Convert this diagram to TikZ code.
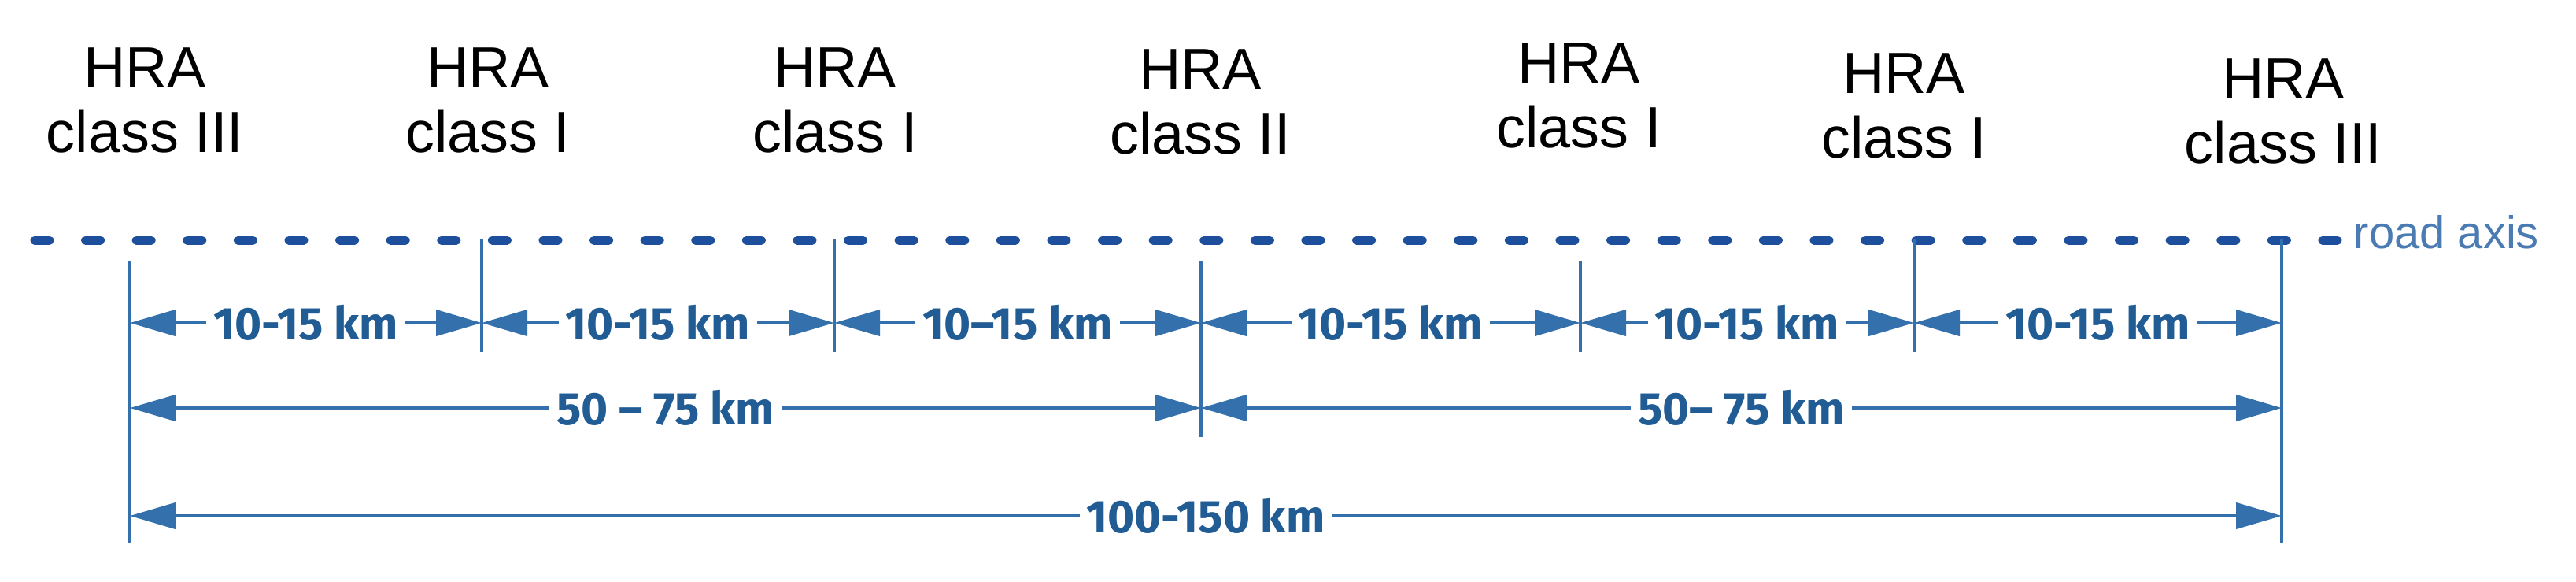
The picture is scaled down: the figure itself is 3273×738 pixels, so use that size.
\documentclass[tikz,border=0pt]{standalone}
\usepackage{fontspec}
\setmainfont{Liberation Sans}
\newfontfamily\dimfont{Fira Sans}
\usepackage{xcolor}
\usetikzlibrary{arrows.meta,positioning,calc}
\definecolor{axisblue}{HTML}{1D4F9C}
\definecolor{dimblue}{HTML}{3470AC}
\definecolor{txtblue}{HTML}{215C94}
\definecolor{roadblue}{HTML}{4A7BB3}

\begin{document}
\begin{tikzpicture}[x=0.1mm,y=-0.1mm,
	hra/.style={anchor=north,align=center,inner sep=0pt,font=\fontsize{21}{23.3}\selectfont},
	tick/.style={draw=dimblue,line width=0.45mm},
	dim/.style={draw=dimblue,line width=0.42mm,{Triangle[length=5.8mm,width=3.3mm]}-{Triangle[length=5.8mm,width=3.3mm]}},
	km/.style={fill=white,inner xsep=0.9mm,inner ysep=0.4mm,text=txtblue,font=\dimfont\bfseries\fontsize{16.6}{18}\selectfont},
	axis/.style={draw=axisblue,line width=1.1mm,line cap=round,dash pattern=on 1.9mm off 4.56mm}]
	\fill[white] (0,0) rectangle (3273,738);
	\useasboundingbox (0,0) rectangle (3273,738);
	% HRA positions
	\node[hra] (h0) at (184,60) {HRA\\class III};
	\node[hra] (h1) at (620,60) {HRA\\class I};
	\node[hra] (h2) at (1061,60) {HRA\\class I};
	\node[hra] (h3) at (1525,62) {HRA\\class II};
	\node[hra] (h4) at (2006,54) {HRA\\class I};
	\node[hra] (h5) at (2419,67) {HRA\\class I};
	\node[hra] (h6) at (2901,74) {HRA\\class III};
	% road axis
	\coordinate (axisL) at (44,305);
	\coordinate (axisR) at (2970,305);
	\draw[axis] (axisL) -- (axisR);
	\node[anchor=base west,inner sep=0pt,text=roadblue,font=\fontsize{16.5}{18}\selectfont] (road) at (2990,315) {road axis};
	% ticks
	\foreach \n/\x/\t/\b in {0/165/332/690,1/612/303/447,2/1060/303/447,3/1526/332/555,4/2008/332/447,5/2432/303/447,6/2899/303/690}{
		\coordinate (t\n) at (\x,\t);
		\coordinate (b\n) at (\x,\b);
		\draw[tick] (t\n) -- (b\n);
	}
	\coordinate (row1) at (0,410);
	\coordinate (row2) at (0,518);
	\coordinate (row3) at (0,655);
	% distances
	\draw[dim] (t0 |- row1) -- node[km] {10-15 km} (t1 |- row1);
	\draw[dim] (t1 |- row1) -- node[km] {10-15 km} (t2 |- row1);
	\draw[dim] (t2 |- row1) -- node[km] {10–15 km} (t3 |- row1);
	\draw[dim] (t3 |- row1) -- node[km] {10-15 km} (t4 |- row1);
	\draw[dim] (t4 |- row1) -- node[km] {10-15 km} (t5 |- row1);
	\draw[dim] (t5 |- row1) -- node[km] {10-15 km} (t6 |- row1);
	\draw[dim] (t0 |- row2) -- node[km] {50 – 75 km} (t3 |- row2);
	\draw[dim] (t3 |- row2) -- node[km] {50– 75 km} (t6 |- row2);
	\draw[dim] (t0 |- row3) -- node[km] {100-150 km} (t6 |- row3);
\end{tikzpicture}
\end{document}
